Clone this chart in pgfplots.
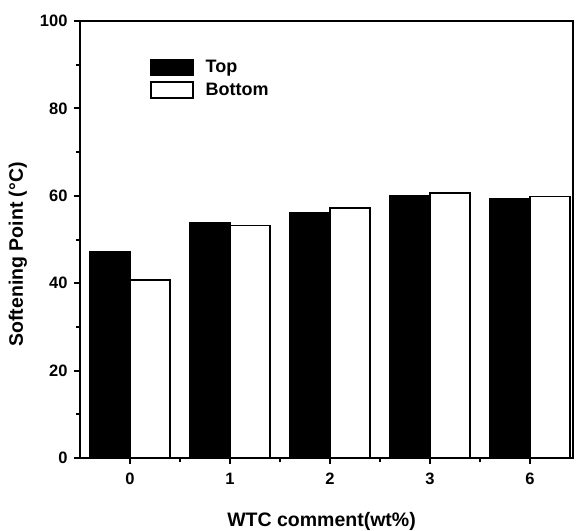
\documentclass[border=0pt]{standalone}
\usepackage{fontspec}
\setmainfont{Liberation Sans}
\usepackage{pgfplots}
\pgfplotsset{compat=1.18}
\begin{document}
\begin{tikzpicture}
\path[use as bounding box] (-80pt,-72pt) rectangle (497pt,458pt);
\begin{axis}[
  at={(0pt,0pt)}, anchor=south west,
  scale only axis,
  width=493pt, height=437pt,
  xmin=-0.5, xmax=4.43,
  ymin=0, ymax=100,
  axis line style={line width=2pt},
  xtick pos=bottom, ytick pos=left,
  tick align=outside,
  xtick={0,1,2,3,4},
  xticklabels={0,1,2,3,6},
  minor xtick={0.5,1.5,2.5,3.5},
  ytick={0,20,40,60,80,100},
  minor ytick={10,30,50,70,90},
  major tick length=6pt,
  minor tick length=4pt,
  tick style={line width=2pt, black},
  /pgf/number format/assume math mode=true,
  tick label style={font=\fontsize{16.5}{16.5}\selectfont\bfseries},
  xticklabel style={yshift=-5pt, text height=12pt},
  yticklabel style={xshift=-3pt},
  xlabel={WTC comment(wt\%)},
  ylabel={Softening Point (°C)},
  xlabel style={at={(axis description cs:0.49,-0.146)}, anchor=center, font=\fontsize{19.5}{19.5}\selectfont\bfseries},
  ylabel style={at={(axis description cs:-0.126,0.466)}, anchor=center, font=\fontsize{19.5}{19.5}\selectfont\bfseries},
  legend style={at={(axis description cs:0.142,0.915)}, anchor=north west, draw=none, fill=none,
    font=\fontsize{18}{18}\selectfont\bfseries, row sep=5pt, inner sep=0pt,
    /tikz/every odd column/.append style={column sep=10pt}},
  legend cell align=left,
  legend image code/.code={\draw[#1, line width=1.5pt] (0pt,-8pt) rectangle (42pt,8pt);},
]
\addplot[ybar, bar width=0.4, bar shift=-0.2, fill=black, draw=black, line width=1.5pt]
  coordinates {(0,47.2) (1,53.8) (2,56.1) (3,60.0) (4,59.3)};
\addplot[ybar, bar width=0.4, bar shift=0.2, fill=white, draw=black, line width=1.5pt]
  coordinates {(0,40.7) (1,53.2) (2,57.2) (3,60.6) (4,59.8)};
\legend{Top,Bottom}
\end{axis}
\end{tikzpicture}
\end{document}
